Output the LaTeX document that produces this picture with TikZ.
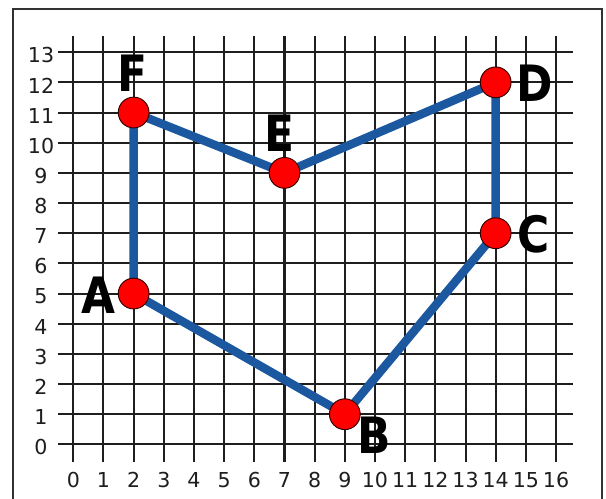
\documentclass[tikz,border=0pt]{standalone}
\usepackage{fontspec}
\setmainfont{DejaVu Sans}
\definecolor{polyblue}{RGB}{28,88,160}
\definecolor{gridcol}{RGB}{30,30,30}
\definecolor{framecol}{RGB}{50,50,50}
\begin{document}
\begin{tikzpicture}[x=1cm,y=1cm,
  gridline/.style={draw=gridcol,line width=1.9pt},
  edge/.style={draw=polyblue,line width=8pt},
  pt/.style={circle,fill=red,draw=black!80!red,line width=0.9pt,minimum size=1.02cm,inner sep=0pt},
  ticklbl/.style={font=\fontsize{19.4}{20}\selectfont,text=gridcol,inner sep=0pt},
  vlbl/.style={font=\fontsize{45}{46}\bfseries\selectfont,inner sep=0pt,yscale=1.05,xscale=0.92,transform shape}]
\useasboundingbox (-2.43,-1.78) rectangle (17.657,14.73);
\fill[white] (-2.43,-1.78) rectangle (17.657,14.73);
\draw[draw=framecol,line width=1.8pt] (-1.99,-2.6) rectangle (17.51,14.43);
% grid
\foreach \i in {0,...,16} {
  \draw[gridline] (\i,-0.58) -- (\i,13.55);
  \node[ticklbl] (xl\i) at (\i,-1.18) {\i};
}
\foreach \j in {0,...,13} {
  \draw[gridline] (-0.51,\j) -- (16.57,\j);
  \node[ticklbl] (yl\j) at (-1.07,\j-0.1) {\j};
}
% points
\coordinate (a) at (2,5);
\coordinate (b) at (9,1);
\coordinate (c) at (14,7);
\coordinate (d) at (14,12);
\coordinate (e) at (7,9);
\coordinate (f) at (2,11);
\draw[edge,line join=round] (a) -- (b) -- (c) -- (d) -- (e) -- (f) -- cycle;
\node[pt] (A) at (a) {};
\node[pt] (B) at (b) {};
\node[pt] (C) at (c) {};
\node[pt] (D) at (d) {};
\node[pt] (E) at (e) {};
\node[pt] (F) at (f) {};
\node[vlbl] (lA) at (0.82,4.95) {A};
\node[vlbl] (lB) at (9.99,0.31) {B};
\node[vlbl] (lC) at (15.25,6.98) {C};
\node[vlbl] (lD) at (15.3,11.97) {D};
\node[vlbl] (lE) at (6.83,10.32) {E};
\node[vlbl] (lF) at (1.95,12.29) {F};
\end{tikzpicture}
\end{document}
